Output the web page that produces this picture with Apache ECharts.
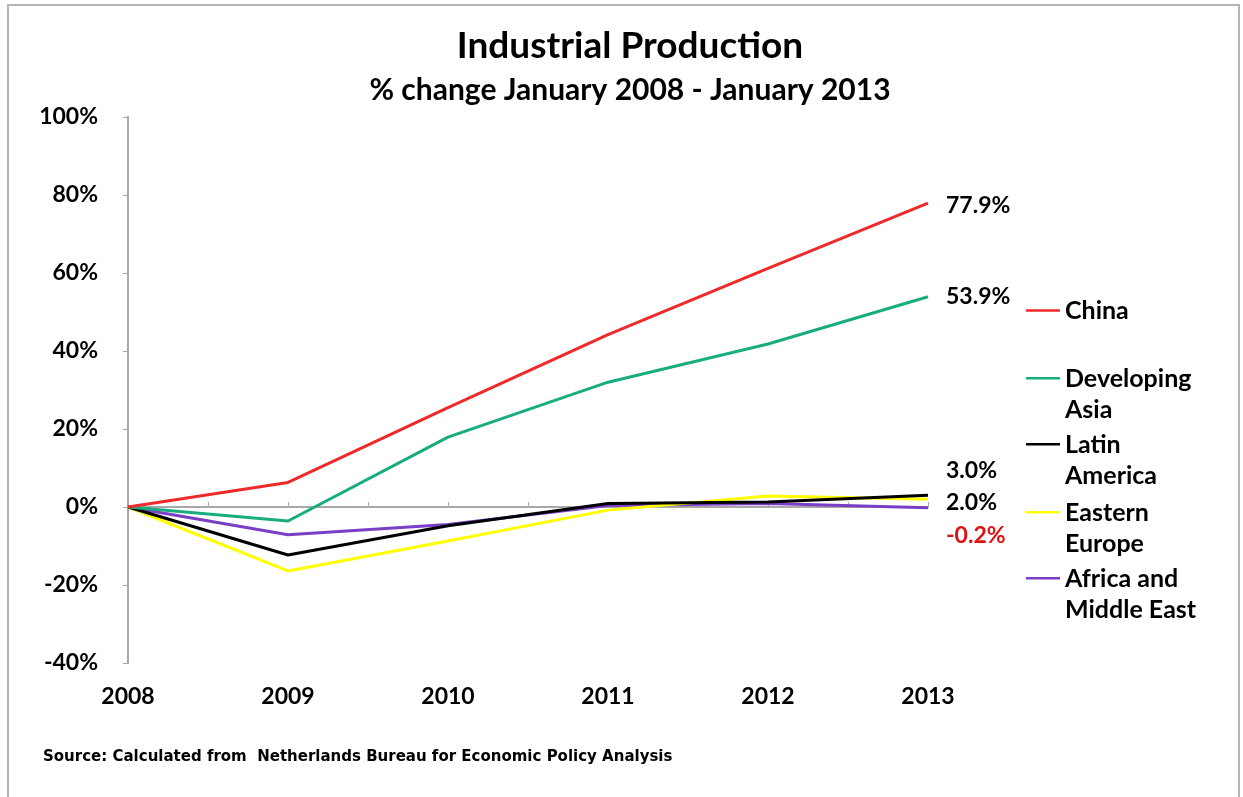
<!DOCTYPE html>
<html>
<head>
<meta charset="utf-8">
<script src="https://cdn.jsdelivr.net/npm/echarts@6/dist/echarts.min.js"></script>
<style>
  html, body { margin: 0; padding: 0; background: #fff; }
  #chart { width: 1243px; height: 797px; }
</style>
</head>
<body>
<div id="chart"></div>
<script>
var years = [2008, 2009, 2010, 2011, 2012, 2013];
var china = [0, 6.3, 25.5, 44.2, 61.2, 77.9];
var devAsia = [0, -3.6, 17.9, 32.0, 41.8, 53.9];
var latAm = [0, -12.3, -4.8, 0.9, 1.3, 3.0];
var eastEu = [0, -16.4, -8.7, -0.8, 2.8, 2.0];
var afrMe = [0, -7.1, -4.5, 0.4, 0.9, -0.2];

var seriesNames = ['China', 'Developing\nAsia', 'Latin\nAmerica', 'Eastern\nEurope', 'Africa and\nMiddle East'];
var seriesColors = ['#ee2a2a', '#17ad7c', '#000000', '#ffff00', '#7a3fc6'];
var endLabelColors = ['#000', '#000', '#000', '#000', '#e01010'];
var endLabelOffsets = [[0, 2], [0, 0], [0, -25], [0, 3], [0, 28]];
var legendTops = [310, 378, 444, 512, 578];
var yTicks = { min: -40, max: 100, step: 20 };

var font = 'Lato';
var allValues = [china, devAsia, latAm, eastEu, afrMe];

// icon with the line near the top, so it sits beside the first text line
var topLineIcon = 'path://M0,14L34,14L34,16.5L0,16.5Z M0,0L0.01,0L0.01,0.01Z M0,62L0.01,62L0.01,61.99Z';

var chart = echarts.init(document.getElementById('chart'));

var series = allValues.map(function (vals, i) {
    return {
        name: seriesNames[i],
        type: 'line',
        xAxisIndex: 0,
        symbol: 'none',
        lineStyle: { width: 3, color: seriesColors[i] },
        itemStyle: { color: seriesColors[i] },
        data: vals.map(function (v, k) { return [years[k], v]; }),
        endLabel: {
            show: true,
            distance: 18,
            offset: endLabelOffsets[i],
            formatter: function (p) { return p.value[1].toFixed(1) + '%'; },
            color: endLabelColors[i],
            fontFamily: font,
            fontWeight: 'bold',
            fontSize: 23
        },
        z: 10 - i
    };
});

var legends = seriesNames.map(function (name, i) {
    var twoLines = name.indexOf('\n') >= 0;
    return {
        data: [name],
        orient: 'vertical',
        left: 1026,
        top: legendTops[i] - 15,
        padding: 0,
        icon: twoLines ? topLineIcon : 'rect',
        itemWidth: 34,
        itemHeight: twoLines ? 62 : 2.5,
        symbolKeepAspect: false,
        selectedMode: false,
        textStyle: {
            fontFamily: font,
            fontWeight: 'bold',
            fontSize: 25,
            lineHeight: 31,
            color: '#000'
        }
    };
});

var option = {
    backgroundColor: '#fff',
    animation: false,
    title: [
        {
            text: 'Industrial Production',
            left: 625, top: 23, textAlign: 'center',
            textStyle: { fontFamily: font, fontWeight: 'bold', fontSize: 37, color: '#000' }
        },
        {
            text: '% change January 2008 - January 2013',
            left: 625, top: 70, textAlign: 'center',
            textStyle: { fontFamily: font, fontWeight: 'bold', fontSize: 30, color: '#000' }
        },
        {
            text: 'Source: Calculated from  Netherlands Bureau for Economic Policy Analysis',
            left: 38, top: 745,
            textStyle: { fontFamily: 'DejaVu Sans', fontWeight: 'bold', fontSize: 15, color: '#000' }
        }
    ],
    legend: legends,
    grid: { left: 128, right: 315, top: 117, bottom: 134 },
    xAxis: [
        {
            type: 'value',
            position: 'bottom',
            min: years[0], max: years[years.length - 1], interval: 1,
            axisLine: { show: false, onZero: false },
            axisTick: { show: false },
            splitLine: { show: false },
            axisLabel: {
                margin: 22,
                formatter: function (v) { return String(v); },
                fontFamily: font, fontWeight: 'bold', fontSize: 23, color: '#000'
            }
        },
        {
            type: 'value',
            position: 'bottom',
            min: years[0], max: years[years.length - 1], interval: 0.5,
            axisLine: { show: true, onZero: true, lineStyle: { color: '#a8a8a8', width: 2 } },
            axisTick: { show: true, inside: true, length: 5, lineStyle: { color: '#a8a8a8' } },
            axisLabel: { show: false },
            splitLine: { show: false }
        }
    ],
    yAxis: {
        type: 'value',
        min: yTicks.min, max: yTicks.max, interval: yTicks.step,
        axisLine: { show: true, lineStyle: { color: '#a8a8a8', width: 2 } },
        axisTick: { show: true, length: 5, lineStyle: { color: '#a8a8a8' } },
        splitLine: { show: false },
        axisLabel: {
            margin: 30,
            formatter: '{value}%',
            fontFamily: font, fontWeight: 'bold', fontSize: 23, color: '#000'
        }
    },
    graphic: [{
        type: 'rect',
        shape: { x: 8, y: 5, width: 1231, height: 800 },
        style: { fill: 'none', stroke: '#b5b5b5', lineWidth: 2 },
        silent: true
    }],
    series: series
};

chart.setOption(option);
window.addEventListener('resize', chart.resize);
</script>
</body>
</html>
